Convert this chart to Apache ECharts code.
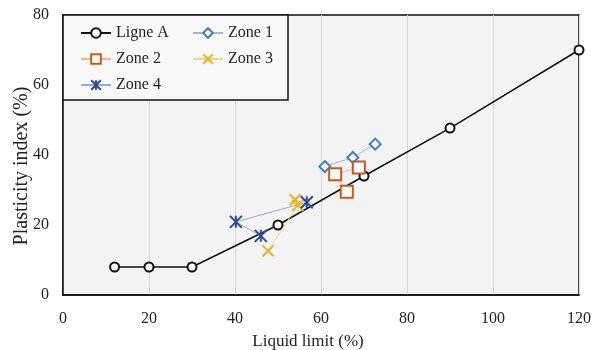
<!DOCTYPE html>
<html>
<head>
<meta charset="utf-8">
<script src="https://cdn.jsdelivr.net/npm/echarts@6/dist/echarts.min.js"></script>
<style>html,body{margin:0;padding:0;background:#fff}#c{width:593px;height:350px}</style>
</head>
<body>
<div id="c"></div>
<script>
const ligneA = [[12, 8], [20, 8], [30, 8], [50, 20], [70, 34], [90, 47.7], [120, 70]];
const zone1 = [[60.9, 36.7], [67.4, 39.3], [72.6, 43.1]];
const zone2 = [[68.8, 36.4], [63.3, 34.5], [66.0, 29.5]];
const zone3 = [[54.0, 27.2], [54.6, 25.6], [47.7, 12.6]];
const zone4 = [[56.7, 26.5], [40.2, 20.9], [46.0, 16.9]];
const xTicks = [0, 20, 40, 60, 80, 100, 120];
const yTicks = [0, 20, 40, 60, 80];

const FONT = '"Liberation Serif", "Times New Roman", serif';
const chart = echarts.init(document.getElementById('c'));
const xPath = 'path://M0 0L10 10M10 0L0 10';
const starPath = 'path://M0 0L10 10M10 0L0 10M5 0L5 10';

function mk(name, data, color, lineColor, symbol, size) {
  return {
    name, type: 'line', data, symbol, symbolSize: size,
    lineStyle: { color: lineColor, width: name === 'Ligne A' ? 1.5 : 1 },
    itemStyle: { color: symbol.startsWith('path') ? 'none' : '#fff', borderColor: color, borderWidth: 2 },
    emphasis: { disabled: true }, z: name === 'Ligne A' ? 3 : 4
  };
}

chart.setOption({
  animation: false,
  backgroundColor: '#fff',
  grid: { left: 63, right: 14, top: 15, bottom: 55, outerBoundsMode: 'none', containLabel: false, show: true, backgroundColor: '#f3f3f3', borderColor: '#111', borderWidth: 1.5 },
  xAxis: {
    type: 'value', min: 0, max: 120, interval: 20,
    name: 'Liquid limit (%)', nameLocation: 'middle', nameGap: 38, nameMoveOverlap: false,
    nameTextStyle: { fontFamily: FONT, fontSize: 17, color: '#222', padding: [0, 26, 0, 0] },
    axisLine: { show: true, lineStyle: { color: '#111', width: 1.5 } },
    axisTick: { show: false },
    axisLabel: { fontFamily: FONT, fontSize: 16, color: '#222', margin: 16, formatter: v => xTicks.includes(v) ? String(v) : '' },
    splitLine: { show: true, lineStyle: { color: '#d6d6d6', width: 1 } }
  },
  yAxis: {
    type: 'value', min: 0, max: 80, interval: 20,
    name: 'Plasticity index (%)', nameLocation: 'middle', nameGap: 31, nameMoveOverlap: false,
    nameTextStyle: { fontFamily: FONT, fontSize: 20, color: '#222', padding: [0, 22, 0, 0] },
    axisLine: { show: true, lineStyle: { color: '#111', width: 1.5 } },
    axisTick: { show: false },
    axisLabel: { fontFamily: FONT, fontSize: 16, color: '#222', margin: 14, formatter: v => yTicks.includes(v) ? String(v) : '' },
    splitLine: { show: false }
  },
  graphic: [{
    type: 'rect', shape: { x: 63, y: 15, width: 225, height: 85 },
    style: { fill: '#f8f8f8', stroke: '#111', lineWidth: 1.5 }, z: 10
  }],
  legend: [
    { left: 75, top: 20, orient: 'vertical', itemGap: 10, itemWidth: 30, itemHeight: 12, z: 20,
      data: ['Ligne A', 'Zone 2', 'Zone 4'],
      textStyle: { fontFamily: FONT, fontSize: 16, color: '#222' } },
    { left: 187, top: 20, orient: 'vertical', itemGap: 10, itemWidth: 30, itemHeight: 12, z: 20,
      data: ['Zone 1', 'Zone 3'],
      textStyle: { fontFamily: FONT, fontSize: 16, color: '#222' } }
  ],
  series: [
    mk('Ligne A', ligneA, '#111', '#111', 'circle', 9),
    mk('Zone 1', zone1, '#3f7fbf', '#9fb8d6', 'diamond', 11),
    mk('Zone 2', zone2, '#c8581c', '#f0b890', 'rect', 12),
    mk('Zone 3', zone3, '#f0b01a', '#f3d488', xPath, 11),
    mk('Zone 4', zone4, '#2a4c94', '#98a8c8', starPath, 12)
  ]
});
</script>
</body>
</html>
